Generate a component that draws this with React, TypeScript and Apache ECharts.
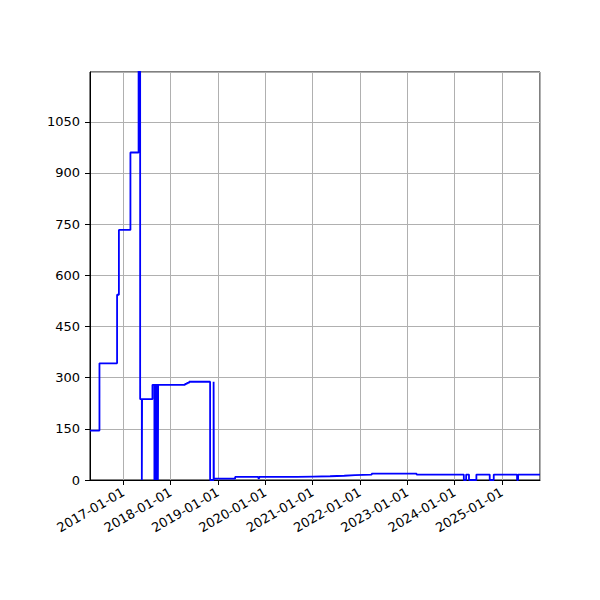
import React, { useEffect, useRef } from "react";
import * as echarts from "echarts";

// change points of the step line (value holds until the next date)
const dates: string[] = [
	"2016-04-18", "2016-06-30", "2016-11-13", "2016-11-27", "2017-02-24",
	"2017-04-28", "2017-05-10", "2017-05-23", "2017-05-25", "2017-08-13",
	"2017-08-28", "2017-08-30", "2017-09-06", "2017-09-08", "2017-09-15",
	"2017-09-17", "2017-09-24", "2017-09-26", "2018-04-22", "2018-05-07",
	"2018-05-23", "2018-11-01", "2018-11-28", "2018-11-30", "2019-05-13",
	"2019-11-08", "2019-11-15", "2020-09-01", "2021-01-04", "2021-05-15",
	"2021-09-01", "2021-11-24", "2022-04-01", "2023-03-14", "2023-08-16",
	"2024-03-12", "2024-03-30", "2024-04-21", "2024-06-17", "2024-09-28",
	"2024-10-29", "2025-04-27", "2025-05-05", "2025-10-21",
];
const values: number[] = [
	145, 342, 543, 733, 960,
	2400, 237, 0, 237, 279,
	0, 279, 0, 279, 0,
	279, 0, 279, 282, 285,
	288, 0, 288, 4, 9,
	5, 9, 10, 11, 12.5,
	14, 15.5, 18.5, 15.5, 16,
	0, 16, 0, 16, 0,
	16, 0, 16, 16,
];

const xMin = "2016-04-18";
const xMax = "2025-10-21";
const yMax = 1196;
const yStep = 150;
const YEAR_MS = 365 * 24 * 3600 * 1000;

const pad = (n: number) => (n < 10 ? "0" + n : "" + n);

const App: React.FC = () => {
	const chartRef = useRef<HTMLDivElement>(null);

	useEffect(() => {
		if (!chartRef.current) return;
		document.body.style.margin = "0";
		const chart = echarts.init(chartRef.current, null, { renderer: "svg" });

		const font = "DejaVu Sans";
		const option: echarts.EChartsOption = {
			animation: false,
			backgroundColor: "#ffffff",
			grid: {
				left: 90,
				top: 72,
				right: 60,
				bottom: 120,
				show: true,
				borderColor: "#000000",
				borderWidth: 1,
			},
			xAxis: {
				type: "time",
				min: xMin,
				max: xMax,
				minInterval: YEAR_MS,
				maxInterval: YEAR_MS,
				axisLine: { show: true, lineStyle: { color: "#000", width: 1 } },
				axisTick: { show: true, length: 5, lineStyle: { color: "#000" } },
				splitLine: { show: true, lineStyle: { color: "#b0b0b0", width: 1 } },
				axisLabel: {
					rotate: 30,
					margin: 11,
					color: "#000",
					fontFamily: font,
					fontSize: 13,
					formatter: (v: number) => {
						const d = new Date(v);
						return `${d.getFullYear()}-${pad(d.getMonth() + 1)}-${pad(d.getDate())}`;
					},
				},
			},
			yAxis: {
				type: "value",
				min: 0,
				max: yMax,
				interval: yStep,
				axisLine: { show: true, lineStyle: { color: "#000", width: 1 } },
				axisTick: { show: true, length: 5, lineStyle: { color: "#000" } },
				splitLine: { show: true, lineStyle: { color: "#b0b0b0", width: 1 } },
				axisLabel: {
					margin: 10,
					color: "#000",
					fontFamily: font,
					fontSize: 13,
					showMaxLabel: false,
					formatter: (v: number) => String(v),
				},
			},
			series: [
				{
					type: "line",
					step: "end",
					showSymbol: false,
					clip: true,
					data: dates.map((d, i) => [d, values[i]]),
					lineStyle: { color: "#0000ff", width: 1.8 },
					itemStyle: { color: "#0000ff" },
				},
			],
		};

		chart.setOption(option);
		return () => {
			chart.dispose();
		};
	}, []);

	return <div ref={chartRef} style={{ width: "600px", height: "600px" }} />;
};

export default App;
